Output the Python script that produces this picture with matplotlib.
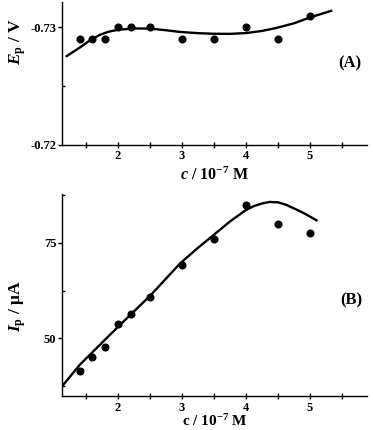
import numpy as np
import matplotlib
matplotlib.use('Agg')
import matplotlib.pyplot as plt
from matplotlib.ticker import MultipleLocator

plt.rcParams['font.family'] = ['Liberation Serif', 'DejaVu Serif']
plt.rcParams['font.weight'] = 'bold'
plt.rcParams['mathtext.fontset'] = 'custom'
plt.rcParams['mathtext.rm'] = 'Liberation Serif:bold'
plt.rcParams['mathtext.it'] = 'Liberation Serif:italic:bold'
plt.rcParams['mathtext.bf'] = 'Liberation Serif:bold'

# concentration, 10^-7 M
conc = [1.4, 1.6, 1.8, 2.0, 2.2, 2.5, 3.0, 3.5, 4.0, 4.5, 5.0]
# peak potential (V)
ep = [-0.7290, -0.7290, -0.7290, -0.7300, -0.7300, -0.7300,
      -0.7290, -0.7290, -0.7300, -0.7290, -0.7310]
# peak current (uA)
ip = [41.5, 45.2, 47.8, 53.7, 56.3, 60.7, 69.1, 76.1, 85.0, 80.0, 77.5]

# fitted curves
fit_a_x = [1.2, 1.4, 1.55, 1.71, 1.85, 2.0, 2.25, 2.5, 2.75, 2.96, 3.25,
           3.49, 3.75, 4.0, 4.25, 4.47, 4.75, 5.0, 5.33]
fit_a_y = [-0.72756, -0.72827, -0.72885, -0.72935, -0.72963, -0.72980,
           -0.72991, -0.72990, -0.72976, -0.72962, -0.72951, -0.72946,
           -0.72945, -0.72952, -0.72970, -0.72995, -0.73035, -0.73085, -0.73141]
fit_b_x = [1.13, 1.4, 2.0, 2.5, 2.97, 3.25, 3.49, 3.75, 4.0, 4.12, 4.25,
           4.37, 4.5, 4.62, 4.75, 4.9, 5.10]
fit_b_y = [37.5, 43.0, 53.0, 61.1, 69.6, 73.7, 77.0, 80.6, 83.6, 84.6, 85.3,
           85.7, 85.6, 85.0, 84.0, 82.8, 80.9]

fig = plt.figure(figsize=(3.73, 4.30), dpi=100)
ax1 = fig.add_axes([0.166, 0.663, 0.818, 0.332])
ax2 = fig.add_axes([0.166, 0.079, 0.818, 0.470])

for ax in (ax1, ax2):
    ax.spines['top'].set_visible(False)
    ax.spines['right'].set_visible(False)
    ax.set_xlim(1.125, 5.89)
    ax.xaxis.set_major_locator(MultipleLocator(1))
    ax.xaxis.set_minor_locator(MultipleLocator(0.5))
    ax.tick_params(axis='x', which='both', direction='inout', length=4, width=1, labelsize=9, pad=2)
    ax.tick_params(axis='y', which='major', direction='out', length=3, width=1, labelsize=9, pad=1)
    ax.tick_params(axis='y', which='minor', direction='in', length=2, width=1)
    for s in ('left', 'bottom'):
        ax.spines[s].set_linewidth(1.0)

# panel A
ax1.plot(conc, ep, 'o', color='black', markersize=4.8)
ax1.plot(fit_a_x, fit_a_y, '-', color='black', linewidth=1.7)
ax1.set_ylim(-0.72, -0.73215)
ax1.set_yticks([-0.73, -0.72])
ax1.set_yticklabels(['-0.73', '-0.72'], fontweight='bold')
ax1.yaxis.set_minor_locator(MultipleLocator(0.005))
ax1.set_xticks([2, 3, 4, 5])
ax1.set_xticklabels(['2', '3', '4', '5'], fontweight='bold')
ax1.set_xlabel(r'$c$ / 10$^{\mathbf{-7}}$ M', fontsize=11.5, fontweight='bold', labelpad=3)
ax1.set_ylabel(r'$E_{\mathrm{p}}$ / V', fontsize=12.5, fontweight='bold')
ax1.yaxis.set_label_coords(-0.112, 0.72)
ax1.text(0.942, 0.573, '(A)', transform=ax1.transAxes, fontsize=12, fontweight='bold',
         ha='center', va='center')

# panel B
ax2.plot(conc, ip, 'o', color='black', markersize=4.8)
ax2.plot(fit_b_x, fit_b_y, '-', color='black', linewidth=1.7)
ax2.set_ylim(34.9, 87.8)
ax2.set_yticks([50, 75])
ax2.set_yticklabels(['50', '75'], fontweight='bold')
ax2.yaxis.set_minor_locator(MultipleLocator(12.5))
ax2.set_xticks([2, 3, 4, 5])
ax2.set_xticklabels(['2', '3', '4', '5'], fontweight='bold')
ax2.set_xlabel(r'c / 10$^{\mathbf{-7}}$ M', fontsize=11, fontweight='bold', labelpad=0)
ax2.set_ylabel(r'$I_{\mathrm{p}}$ / $\mathrm{\mu}$A', fontsize=12.5, fontweight='bold')
ax2.yaxis.set_label_coords(-0.112, 0.445)
ax2.text(0.948, 0.475, '(B)', transform=ax2.transAxes, fontsize=12, fontweight='bold',
         ha='center', va='center')

fig.savefig('out.png', dpi=100)
